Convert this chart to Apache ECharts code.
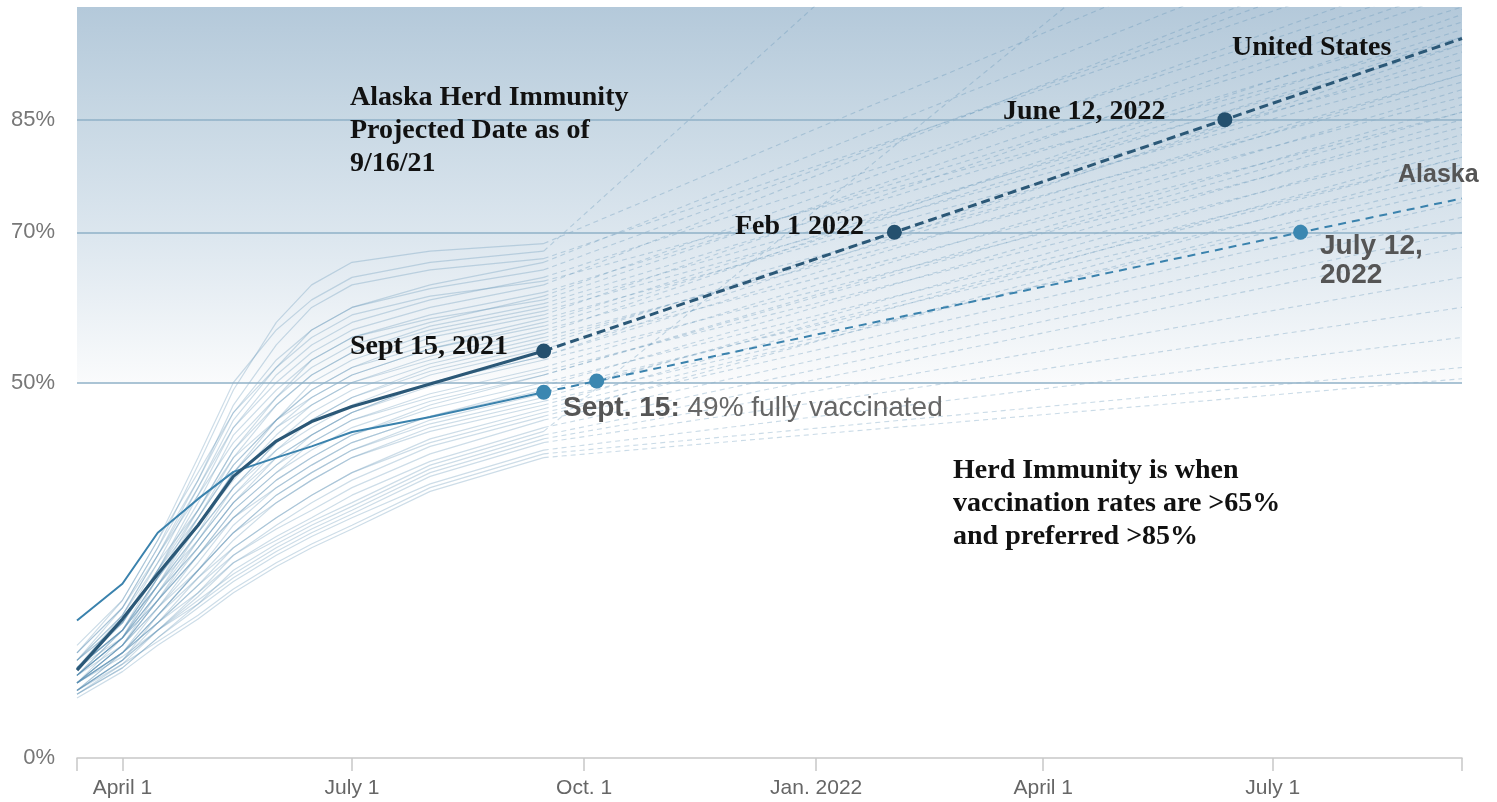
<!DOCTYPE html>
<html><head><meta charset="utf-8">
<script src="https://cdn.jsdelivr.net/npm/echarts@6/dist/echarts.min.js"></script>
<style>html,body{margin:0;padding:0;background:#fff}#c{width:1497px;height:802px}</style>
</head><body><div id="c"></div>
<script>
// ---- data ----
const dates = ['2021-03-14','2021-04-01','2021-04-15','2021-05-01','2021-05-15','2021-06-01','2021-06-15','2021-07-01','2021-08-01','2021-09-15'];
const projectionEndDate = '2022-09-14';

// state-level % fully vaccinated at the dates above (faint background lines)
const states = [
  [13,20,28,39,49,58,63,66,67.5,68.5],
  [15,21,29,40,50,57,61,64,66,67.5],
  [12,18,26,36,45,52,57,60,63,66],
  [14,20,28,37,46,53,57,60,62.5,65],
  [11,17,25,35,44,51,55,58,61,64],
  [13,19,27,36,44,50,54,57,60,63],
  [12,18,25,34,43,49,53,56,59,62],
  [14,20,27,35,42,48,52,55,58,61.5],
  [11,16,23,32,40,47,51,54,57.5,60.5],
  [13,18,25,33,41,47,51,54,57,60],
  [12,17,24,32,39,45,49,52,56,59],
  [10,15,22,30,38,45,49,52,55,58.5],
  [13,19,26,33,40,45,48,51,54.5,58],
  [11,16,23,31,38,44,47,50,53.5,57],
  [12,17,24,31,37,43,47,50,53,56.5],
  [10,15,21,29,36,42,46,49,52.5,56],
  [12,17,23,30,36,42,45,48,51.5,55],
  [11,16,22,29,35,41,44,47,51,54.5],
  [10,15,21,28,34,40,43,46,50,53.5],
  [12,17,23,29,35,40,43,46,49.5,53],
  [11,16,22,28,34,39,42,45,48.5,52],
  [9,14,20,27,33,38,42,45,48,51.5],
  [11,16,21,27,33,38,41,44,47.5,51],
  [10,15,20,26,32,37,40,43,46.5,50],
  [12,16,21,27,32,36,39,42,45.5,49.5],
  [9,13,19,25,31,36,39,42,45.5,49],
  [10,14,19,25,30,35,38,41,44.5,48],
  [11,15,20,25,30,34,37,40,44,47.5],
  [9,13,18,24,29,34,37,40,43.5,47],
  [10,14,19,24,28,32,35,38,42,46],
  [8.5,12.5,17,22,27,31,34,37,41.5,45.5],
  [10,14,18,23,27,30.5,33,36,40.5,45],
  [9,13,17,21.5,26,29.5,32,35,39.5,44],
  [10,14,18,22,26,29,31.5,34,39,43.5],
  [8.5,12,16,20.5,25,28.5,31,33.5,38.5,43],
  [9,13,17,21,24.5,28,30.5,33,38,42.5],
  [10,13.5,17,20.5,24,27.5,30,32.5,37.5,42],
  [8.5,12,16,20,23.5,27,29.5,32,36.5,41],
  [9,12.5,15.5,19,22.5,26,28.5,31,36,40.5],
  [8,11.5,15,18.5,22,25.5,28,30.5,35.5,40],
  [12,19,27,37,47,55,60,63,65,66.5],
  [14,21,29,38,46,52,56,59,61.5,63.5],
  [10,16,24,33,41,48,53,56,58.5,61],
  [13,18,25,32,39,45,50,53,56.5,59.5],
  [11,17,24,31,38,44,48,51,54.5,57.5],
  [12,17,23,30,36,41,45,48,52,55.5],
  [11,16,22,28,34,39,43,46,50,53.5],
  [10,15,21,27,32,37,40,43,47,51],
  [9,14,19,25,30,35,38,41,45,48.5],
  [10,14,18,23,28,32,35,38,42.5,46.5]
];
// projected value at projectionEndDate (straight-line projection from Sept 15)
const stateProjectionEnd = [120,178,115,110,104,112,100,106,98,95,102,92,97,90,99,88,94,86,91,84,89,82,87,80,85,78,83,76,81,74,79,72,70,143,68,64,60,56,52,50.5,108,96,103,93,96,91,95,86,80,77];

const usValues = [11.7,18.5,24.5,31,37.5,42.2,44.8,46.8,49.8,54.2];
const akValues = [18.3,23.2,30,34.5,38.1,40,41.5,43.4,45.4,48.7];

const usProjDates = ['2021-09-15','2022-02-01','2022-06-12','2022-09-14'];
const usProjValues = [54.2,70,85,95.8];
const usDotDates = ['2021-09-15','2022-02-01','2022-06-12'];
const usDotValues = [54.2,70,85];

const akProjDates = ['2021-09-15','2021-10-06','2022-07-12','2022-09-14'];
const akProjValues = [48.7,50.2,70,74.5];
const akDotDates = ['2021-09-15','2021-10-06','2022-07-12'];
const akDotValues = [48.7,50.2,70];

const xTickDates = ['2021-04-01','2021-07-01','2021-10-01','2022-01-01','2022-04-01','2022-07-01'];
const xTickLabels = ['April 1','July 1','Oct. 1','Jan. 2022','April 1','July 1'];
const yTickValues = [0,50,70,85];
const gridLineValues = [50,70,85];
const xMin = '2021-03-14', xMax = '2022-09-14';

// ---- build ----
function ts(s){const p=s.split('-').map(Number);return Date.UTC(p[0],p[1]-1,p[2]);}
const pair=(ds,vs)=>ds.map((d,i)=>[ts(d),vs[i]]);

const series=[];
series.push({
  type:'line', data:[[ts(xMin),null]], z:1, silent:true, symbol:'none',
  markArea:{silent:true, itemStyle:{color:new echarts.graphic.LinearGradient(0,0,0,1,[
    {offset:0,color:'#b4c9da'},{offset:0.3,color:'#c8d8e4'},{offset:0.62,color:'#dde7ef'},{offset:1,color:'#fafbfc'}])},
    data:[[{yAxis:50},{yAxis:100}]]},
  markLine:{silent:true, symbol:'none', label:{show:false},
    lineStyle:{color:'#8fb0c7',width:1.5,type:'solid'},
    data:gridLineValues.map(v=>({yAxis:v}))}
});
states.forEach((vals,i)=>{
  series.push({type:'line',silent:true,symbol:'none',z:2,data:pair(dates,vals),
    lineStyle:{color:'rgba(90,142,180,0.3)',width:1.2}});
  series.push({type:'line',silent:true,symbol:'none',z:2,
    data:[[ts(dates[dates.length-1]),vals[vals.length-1]],[ts(projectionEndDate),stateProjectionEnd[i]]],
    lineStyle:{color:'rgba(90,142,180,0.32)',width:1.1,type:[5,4]}});
});
const usColor='#2b5877', akColor='#3a82ad';
series.push({type:'line',silent:true,symbol:'none',z:5,data:pair(dates,akValues),lineStyle:{color:akColor,width:2}});
series.push({type:'line',silent:true,symbol:'none',z:5,data:pair(akProjDates,akProjValues),lineStyle:{color:akColor,width:2,type:[8,6]}});
series.push({type:'line',silent:true,symbol:'none',z:6,data:pair(dates,usValues),lineStyle:{color:usColor,width:3.2,join:'round'}});
series.push({type:'line',silent:true,symbol:'none',z:6,data:pair(usProjDates,usProjValues),lineStyle:{color:usColor,width:3,type:[9,5]}});
series.push({type:'scatter',silent:true,z:7,symbolSize:15,itemStyle:{color:'#3b87b1',opacity:1},data:pair(akDotDates,akDotValues)});
series.push({type:'scatter',silent:true,z:7,symbolSize:15,itemStyle:{color:'#24506e',opacity:1},data:pair(usDotDates,usDotValues)});

const tickTs=xTickDates.map(ts);
const serif='"Liberation Serif", "Times New Roman", serif';
const sans='"Liberation Sans", Arial, sans-serif';
function txt(text,x,y,font,fill){return {type:'text',x:x,y:y,silent:true,z:100,
  style:{text:text,font:font,fill:fill,align:'left',verticalAlign:'middle'}};}

const option={
  animation:false,
  backgroundColor:'#fff',
  grid:{left:77,right:35,top:7,bottom:44},
  xAxis:{type:'value',min:ts(xMin),max:ts(xMax),
    axisLine:{show:true,lineStyle:{color:'#c8c8c8',width:1.5}},
    axisTick:{show:true,length:13,lineStyle:{color:'#c8c8c8',width:1.5},customValues:[ts(xMin)].concat(tickTs,[ts(xMax)])},
    axisLabel:{color:'#666',fontFamily:sans,fontSize:21,margin:20,customValues:tickTs,
      formatter:v=>{const i=tickTs.indexOf(v);return i>=0?xTickLabels[i]:'';}},
    splitLine:{show:false}},
  yAxis:{type:'value',min:0,max:100,interval:5,
    axisLine:{show:false},axisTick:{show:false},splitLine:{show:false},
    axisLabel:{color:'#777',fontFamily:sans,fontSize:22,margin:22,customValues:yTickValues,
      formatter:v=>yTickValues.indexOf(v)>=0?v+'%':''}},
  series:series,
  graphic:[
    txt('Alaska Herd Immunity',350,98,'bold 28px '+serif,'#111'),
    txt('Projected Date as of',350,131,'bold 28px '+serif,'#111'),
    txt('9/16/21',350,164,'bold 28px '+serif,'#111'),
    txt('United States',1232,48,'bold 28px '+serif,'#111'),
    txt('June 12, 2022',1003,112,'bold 28px '+serif,'#111'),
    txt('Feb 1 2022',735,227,'bold 28px '+serif,'#111'),
    txt('Sept 15, 2021',350,347,'bold 28px '+serif,'#111'),
    txt('Herd Immunity is when',953,471,'bold 28px '+serif,'#111'),
    txt('vaccination rates are >65%',953,504,'bold 28px '+serif,'#111'),
    txt('and preferred >85%',953,537,'bold 28px '+serif,'#111'),
    txt('Alaska',1398,175,'bold 25px '+sans,'#555'),
    txt('July 12,',1320,246,'bold 28px '+sans,'#555'),
    txt('2022',1320,275,'bold 28px '+sans,'#555'),
    {type:'text',x:563,y:408,silent:true,z:100,style:{text:'{b|Sept. 15:} 49% fully vaccinated',
      font:'28px '+sans,fill:'#666',verticalAlign:'middle',
      rich:{b:{fontWeight:'bold',fontSize:28,fontFamily:sans,fill:'#555'}}}}
  ]
};
const chart=echarts.init(document.getElementById('c'),null,{renderer:'canvas'});
chart.setOption(option);
</script></body></html>
